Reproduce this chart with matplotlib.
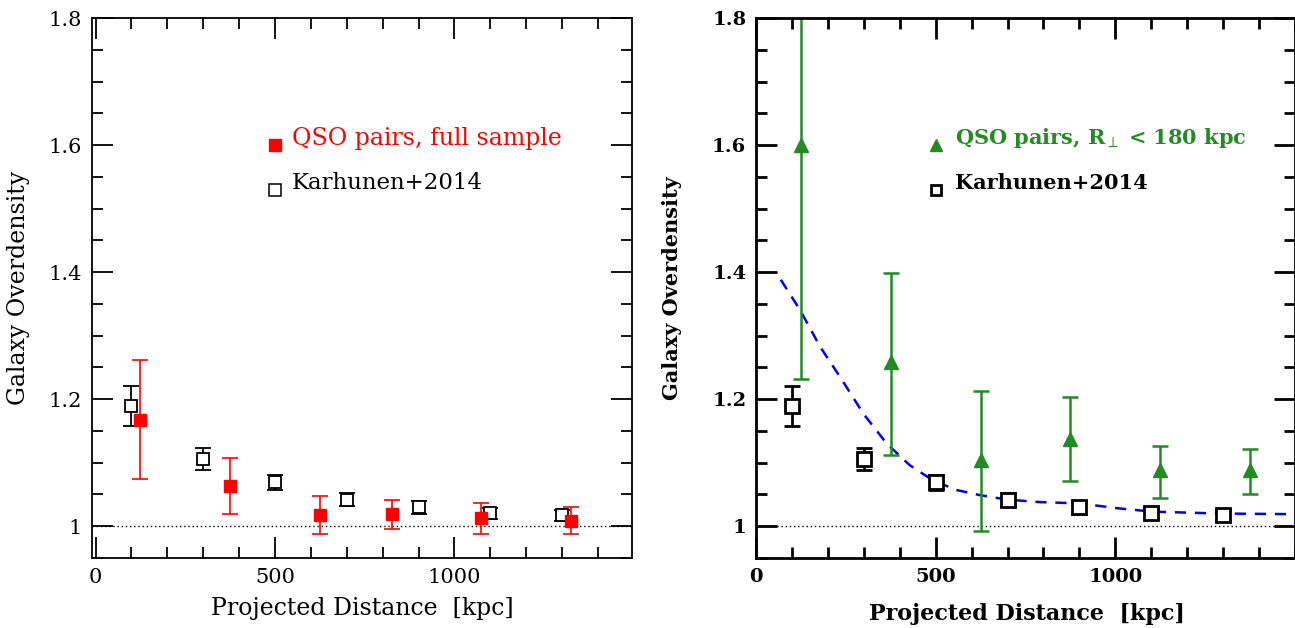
import numpy as np
import matplotlib
matplotlib.use('Agg')
import matplotlib.pyplot as plt
from matplotlib.ticker import MultipleLocator, FixedLocator

plt.rcParams['font.family'] = ['DejaVu Serif']
plt.rcParams['mathtext.fontset'] = 'dejavuserif'

# Karhunen+2014 (same in both panels)
kar_x = [100, 300, 500, 700, 900, 1100, 1300]
kar_y = [1.189, 1.106, 1.069, 1.042, 1.030, 1.021, 1.017]
kar_lo = [1.158, 1.089, 1.057, 1.032, 1.020, 1.012, 1.008]
kar_hi = [1.220, 1.123, 1.081, 1.052, 1.039, 1.029, 1.025]

# QSO pairs, full sample (left)
full_x = [125, 375, 625, 825, 1075, 1325]
full_y = [1.168, 1.064, 1.017, 1.019, 1.013, 1.009]
full_lo = [1.075, 1.020, 0.988, 0.995, 0.988, 0.988]
full_hi = [1.262, 1.108, 1.047, 1.042, 1.037, 1.031]

# QSO pairs, R_perp < 180 kpc (right)
close_x = [125, 375, 625, 875, 1125, 1375]
close_y = [1.600, 1.258, 1.104, 1.138, 1.088, 1.088]
close_lo = [1.232, 1.112, 0.992, 1.071, 1.045, 1.050]
close_hi = [2.000, 1.399, 1.213, 1.204, 1.126, 1.121]

# dashed model curve (right)
mod_x = [69, 123, 179, 234, 299, 364, 428, 493, 558, 623, 697, 790, 900, 1011, 1104, 1289, 1500]
mod_y = [1.388, 1.340, 1.282, 1.235, 1.177, 1.130, 1.096, 1.072, 1.057, 1.049, 1.042, 1.038, 1.036, 1.028, 1.023, 1.020, 1.019]

xticks = [0, 500, 1000]

W, H = 1295, 628
fig = plt.figure(figsize=(W/100, H/100), dpi=100)

def px_axes(x0, y0, x1, y1):
    return fig.add_axes([x0/W, 1-y1/H, (x1-x0)/W, (y1-y0)/H])

def err(y, lo, hi):
    y = np.array(y); return [y-np.array(lo), np.array(hi)-y]

def style(ax, lw, fs, weight):
    ax.set_ylim(0.95, 1.8)
    ax.xaxis.set_major_locator(FixedLocator(xticks))
    ax.xaxis.set_minor_locator(MultipleLocator(100))
    ax.yaxis.set_major_locator(MultipleLocator(0.2))
    ax.yaxis.set_minor_locator(MultipleLocator(0.05))
    ax.yaxis.set_major_formatter(plt.FuncFormatter(lambda v, p: '1' if abs(v-1) < 1e-6 else '%.1f' % v))
    ax.tick_params(which='both', direction='in', top=True, right=True, width=lw)
    ax.tick_params(which='major', length=15, pad=7, labelsize=fs)
    ax.tick_params(which='minor', length=8)
    for s in ax.spines.values():
        s.set_linewidth(lw)
    for t in ax.get_xticklabels() + ax.get_yticklabels():
        t.set_fontweight(weight)
    ax.axhline(1.0, color='k', ls=(0, (1, 2)), lw=1)

# left panel
ax1 = px_axes(92, 18, 632, 558)
ax1.set_xlim(-10, 1495)
style(ax1, 1.3, 15, 'normal')
ax1.errorbar(kar_x, kar_y, yerr=err(kar_y, kar_lo, kar_hi), fmt='s', mfc='white', mec='k',
             ms=9, mew=1.3, ecolor='k', elinewidth=1.3, capsize=6, capthick=1.3)
ax1.errorbar(full_x, full_y, yerr=err(full_y, full_lo, full_hi), fmt='s', color='red',
             ms=8.5, elinewidth=1.2, capsize=6, capthick=1.2)
ax1.plot([500], [1.6], 's', color='red', ms=8.5)
ax1.text(547, 1.611, 'QSO pairs, full sample', color='red', fontsize=17, va='center')
ax1.plot([500], [1.53], 's', mfc='white', mec='k', ms=8.5, mew=1.1)
ax1.text(547, 1.54, 'Karhunen+2014', color='k', fontsize=16.5, va='center')
ax1.set_xlabel('Projected Distance  [kpc]', fontsize=17, va='center')
ax1.xaxis.set_label_coords(0.5, -0.094)
ax1.set_ylabel('Galaxy Overdensity', fontsize=17, va='center')
ax1.yaxis.set_label_coords(-0.137, 0.5)

# right panel
ax2 = px_axes(756, 18, 1295, 558)
ax2.set_xlim(0, 1500)
style(ax2, 2, 14, 'bold')
ax2.plot(mod_x, mod_y, color='blue', ls=(0, (4.5, 3.5)), lw=1.8)
ax2.errorbar(kar_x, kar_y, yerr=err(kar_y, kar_lo, kar_hi), fmt='s', mfc='white', mec='k',
             ms=9.5, mew=2, ecolor='k', elinewidth=2, capsize=6, capthick=2)
ax2.errorbar(close_x, close_y, yerr=err(close_y, close_lo, close_hi), fmt='^', color='#228b22',
             ms=10, elinewidth=1.8, capsize=6, capthick=1.8)
ax2.plot([500], [1.6], '^', color='#228b22', ms=8)
ax2.text(553, 1.611, r'QSO pairs, R$_{\perp}$ < 180 kpc', color='#228b22', fontsize=15,
         fontweight='bold', va='center')
ax2.plot([500], [1.53], 's', mfc='white', mec='k', ms=7.5, mew=2)
ax2.text(553, 1.54, 'Karhunen+2014', color='k', fontsize=15, fontweight='bold', va='center')
ax2.set_xlabel('Projected Distance  [kpc]', fontsize=16, fontweight='bold', va='center')
ax2.xaxis.set_label_coords(0.502, -0.104)
ax2.set_ylabel('Galaxy Overdensity', fontsize=15, fontweight='bold', va='center')
ax2.yaxis.set_label_coords(-0.156, 0.5)

fig.savefig('out.png', dpi=100)
